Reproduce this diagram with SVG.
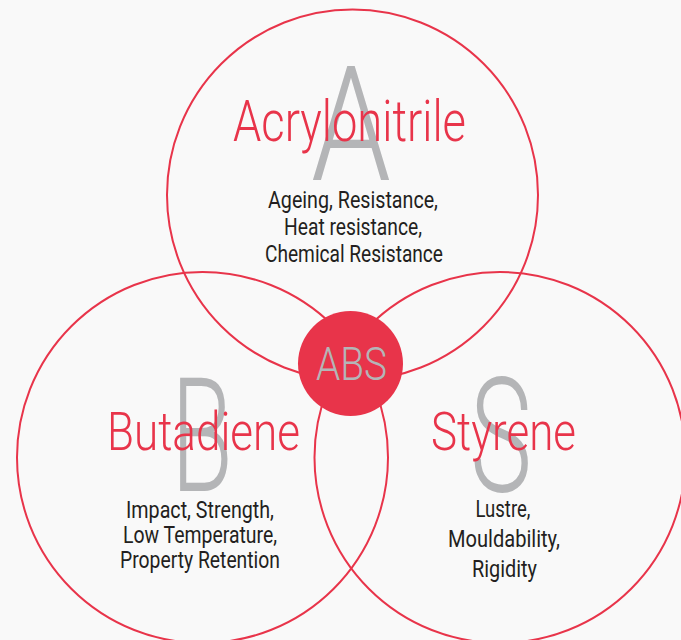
<svg xmlns="http://www.w3.org/2000/svg" width="681" height="640" viewBox="0 0 681 640">
  <style>
    .ring { fill: none; stroke: #e8344a; stroke-width: 2; }
    .hub { fill: #e8344a; }
    .letter { font-family: Roboto, "Liberation Sans", sans-serif; font-weight: 300; font-size: 160px; fill: #b4b5b7; text-anchor: middle; }
    .title { font-family: Roboto, "Liberation Sans", sans-serif; font-weight: 300; font-size: 54px; fill: #e8344a; text-anchor: middle; }
    .title-lg { font-size: 57px; }
    .body { font-family: Roboto, "Liberation Sans", sans-serif; font-weight: 400; font-size: 24px; fill: #231f20; text-anchor: middle; }
    .hubtext { font-family: Roboto, "Liberation Sans", sans-serif; font-weight: 300; font-size: 46px; fill: #b4b5b7; text-anchor: middle; }
  </style>
  <rect width="681" height="640" fill="#f9f9f9"/>

  <!-- outline rings -->
  <g id="connectors">
    <circle class="ring" cx="352.5" cy="195" r="185.5"/>
    <circle class="ring" cx="202.5" cy="457.5" r="185.5"/>
    <circle class="ring" cx="500" cy="457.5" r="185.5"/>
  </g>

  <g id="node-acrylonitrile">
    <text class="letter" x="351" y="180" textLength="80" lengthAdjust="spacingAndGlyphs">A</text>
    <text class="title title-lg" x="349.5" y="141" textLength="233" lengthAdjust="spacingAndGlyphs">Acrylonitrile</text>
    <text class="body" x="353" y="208" textLength="170" lengthAdjust="spacingAndGlyphs">Ageing, Resistance,</text>
    <text class="body" x="353" y="235" textLength="138" lengthAdjust="spacingAndGlyphs">Heat resistance,</text>
    <text class="body" x="354" y="262" textLength="178" lengthAdjust="spacingAndGlyphs">Chemical Resistance</text>
  </g>

  <g id="node-butadiene">
    <text class="letter" x="202" y="491" textLength="62" lengthAdjust="spacingAndGlyphs">B</text>
    <text class="title" x="203.5" y="450" textLength="193" lengthAdjust="spacingAndGlyphs">Butadiene</text>
    <text class="body" x="200" y="518" textLength="148" lengthAdjust="spacingAndGlyphs">Impact, Strength,</text>
    <text class="body" x="200" y="543" textLength="154" lengthAdjust="spacingAndGlyphs">Low Temperature,</text>
    <text class="body" x="200" y="568" textLength="160" lengthAdjust="spacingAndGlyphs">Property Retention</text>
  </g>

  <g id="node-styrene">
    <text class="letter" x="501" y="491" textLength="62" lengthAdjust="spacingAndGlyphs">S</text>
    <text class="title" x="503.5" y="450" textLength="145" lengthAdjust="spacingAndGlyphs">Styrene</text>
    <text class="body" x="503" y="517" textLength="55" lengthAdjust="spacingAndGlyphs">Lustre,</text>
    <text class="body" x="504" y="547" textLength="112" lengthAdjust="spacingAndGlyphs">Mouldability,</text>
    <text class="body" x="504.5" y="577" textLength="65" lengthAdjust="spacingAndGlyphs">Rigidity</text>
  </g>

  <g id="node-abs">
    <circle class="hub" cx="350.5" cy="363.5" r="52.5"/>
    <text class="hubtext" x="351.5" y="380" textLength="71" lengthAdjust="spacingAndGlyphs">ABS</text>
  </g>
</svg>
